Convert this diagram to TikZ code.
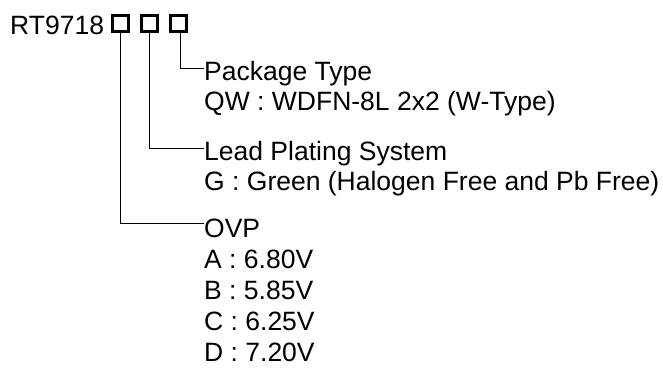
\documentclass[tikz,border=0pt]{standalone}
\usepackage{fontspec}
\setmainfont{Liberation Sans}
\usepackage{tikz}

\begin{document}
\begin{tikzpicture}[x=1pt,y=-1pt]
		\tikzstyle{digit}=[draw,line width=3.2pt,shape=rectangle,minimum size=15.8pt,inner sep=0pt]
		\tikzstyle{txt}=[anchor=base west,inner sep=0pt,font=\fontsize{26.5}{31}\selectfont]
		\tikzstyle{lead}=[line width=0.8pt]
		
		\useasboundingbox (0,0) rectangle (663,367);
		
		\node[txt](pn) at (10,34){RT9718};
		\node[digit](b1) at (120.5,23.5){};
		\node[digit](b2) at (149.5,23.5){};
		\node[digit](b3) at (178.5,23.5){};
		
		\node[txt](pkg) at (204,80){Package Type};
		\node[txt](pkg1) at (204,110){QW : WDFN-8L 2x2 (W-Type)};
		
		\node[txt](lp) at (204,160){Lead Plating System};
		\node[txt](lp1) at (204,190){G : Green (Halogen Free and Pb Free)};
		
		\node[txt](ovp) at (204,237){OVP};
		\node[txt](ovp1) at (204,268){A : 6.80V};
		\node[txt](ovp2) at (204,299){B : 5.85V};
		\node[txt](ovp3) at (204,330){C : 6.25V};
		\node[txt](ovp4) at (204,361){D : 7.20V};
		
		\draw[lead] ([xshift=1.5pt]b3.south) |- ([yshift=12pt]pkg.base west);
		\draw[lead] (b2.south) |- ([yshift=12pt]lp.base west);
		\draw[lead] (b1.south) |- ([yshift=14pt]ovp.base west);
\end{tikzpicture}
\end{document}
